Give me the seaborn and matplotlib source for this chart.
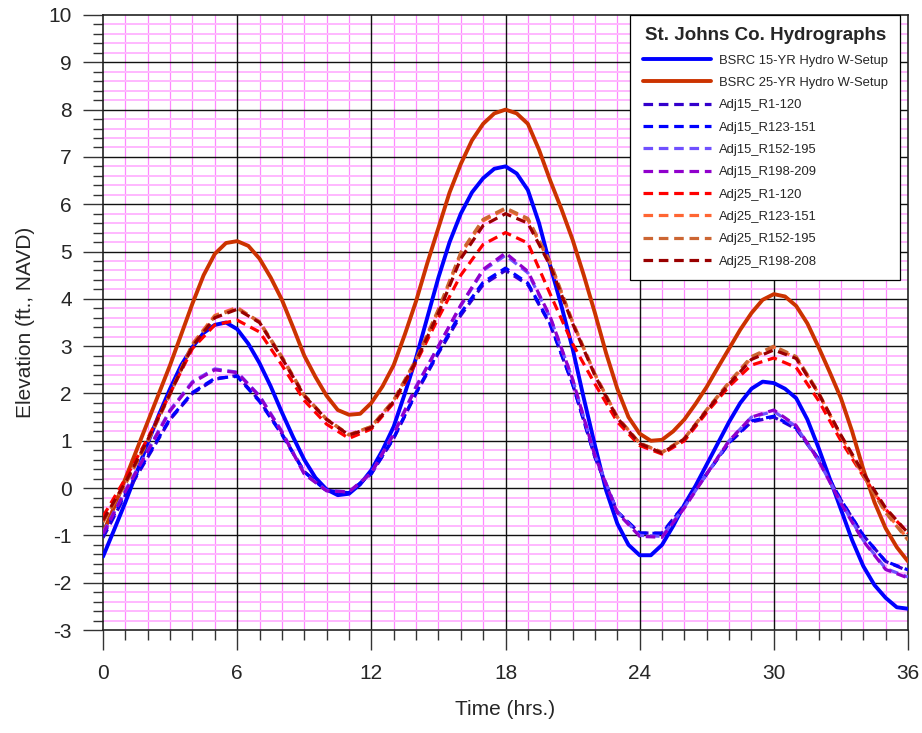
import matplotlib
matplotlib.use("Agg")
import matplotlib.pyplot as plt
from matplotlib.ticker import MultipleLocator
import seaborn as sns
import pandas as pd

# Elevations (ft, NAVD) over a 36-hour storm window.
# Base hydrographs are tabulated every half hour, adjusted runs every hour.
half_hours = [i * 0.5 for i in range(73)]
hours = list(range(37))

bsrc15 = [-1.45, -0.88, -0.3, 0.32, 0.95, 1.55, 2.1, 2.6, 2.98, 3.28, 3.45, 3.5,
          3.36, 3.05, 2.64, 2.15, 1.6, 1.08, 0.6, 0.22, -0.03, -0.15, -0.12, 0.08,
          0.38, 0.8, 1.3, 2.0, 2.75, 3.6, 4.45, 5.2, 5.8, 6.25, 6.55, 6.75,
          6.8, 6.65, 6.3, 5.6, 4.7, 3.85, 2.95, 1.9, 0.9, -0.05, -0.75, -1.2,
          -1.42, -1.42, -1.2, -0.8, -0.35, 0.05, 0.5, 0.95, 1.4, 1.8, 2.1, 2.25,
          2.22, 2.1, 1.9, 1.45, 0.85, 0.2, -0.45, -1.1, -1.65, -2.05, -2.32, -2.52,
          -2.55]
bsrc25 = [-0.95, -0.4, 0.2, 0.8, 1.4, 2.0, 2.6, 3.25, 3.9, 4.5, 4.95, 5.18,
          5.22, 5.12, 4.85, 4.45, 3.98, 3.4, 2.8, 2.35, 1.95, 1.65, 1.55, 1.57,
          1.8, 2.15, 2.6, 3.25, 3.95, 4.75, 5.5, 6.25, 6.85, 7.35, 7.7, 7.92,
          8.0, 7.92, 7.7, 7.15, 6.5, 5.9, 5.25, 4.5, 3.7, 2.85, 2.1, 1.5,
          1.15, 1.0, 1.02, 1.2, 1.45, 1.78, 2.14, 2.55, 2.95, 3.35, 3.7, 3.98,
          4.1, 4.05, 3.85, 3.48, 2.98, 2.45, 1.9, 1.2, 0.4, -0.3, -0.85, -1.25,
          -1.55]
adj15_r1_120 = [-1.05, -0.15, 0.65, 1.45, 2.0, 2.3, 2.38, 1.85, 1.15, 0.35, -0.05, -0.1,
                0.3, 1.05, 2.0, 2.85, 3.65, 4.3, 4.6, 4.3, 3.45, 2.2, 0.65, -0.5, -0.95,
                -0.95, -0.35, 0.3, 0.95, 1.4, 1.5, 1.25, 0.6, -0.25, -1.0, -1.55, -1.75]
adj15_r123_151 = [-1.0, -0.12, 0.68, 1.47, 2.02, 2.32, 2.36, 1.83, 1.13, 0.34, -0.06, -0.1,
                  0.31, 1.06, 2.02, 2.88, 3.7, 4.35, 4.65, 4.33, 3.47, 2.2, 0.66, -0.5,
                  -0.95, -0.96, -0.36, 0.3, 0.96, 1.42, 1.52, 1.27, 0.62, -0.25, -1.0,
                  -1.55, -1.73]
adj15_r152_195 = [-0.95, -0.05, 0.8, 1.65, 2.25, 2.52, 2.45, 1.95, 1.2, 0.3, -0.05, -0.08,
                  0.32, 1.15, 2.15, 3.0, 3.85, 4.6, 4.92, 4.55, 3.6, 2.3, 0.7, -0.5, -1.0,
                  -1.02, -0.4, 0.3, 1.0, 1.5, 1.62, 1.3, 0.58, -0.3, -1.1, -1.7, -1.88]
adj15_r198_209 = [-0.97, -0.07, 0.78, 1.63, 2.23, 2.5, 2.44, 1.94, 1.18, 0.3, -0.06, -0.08,
                  0.32, 1.14, 2.13, 3.0, 3.87, 4.62, 4.97, 4.58, 3.62, 2.3, 0.68, -0.52,
                  -1.02, -1.04, -0.42, 0.3, 1.0, 1.5, 1.65, 1.32, 0.58, -0.32, -1.12,
                  -1.72, -1.9]
adj25_r1_120 = [-0.6, 0.2, 1.05, 2.0, 2.95, 3.45, 3.55, 3.3, 2.6, 1.85, 1.35, 1.05, 1.25,
                1.8, 2.65, 3.6, 4.5, 5.15, 5.4, 5.18, 4.1, 3.05, 2.2, 1.4, 0.9, 0.72, 1.0,
                1.6, 2.15, 2.6, 2.75, 2.55, 1.85, 1.0, 0.25, -0.45, -0.95]
adj25_r123_151 = [-0.7, 0.1, 1.0, 2.0, 3.05, 3.65, 3.82, 3.5, 2.75, 1.95, 1.45, 1.12, 1.3,
                  1.85, 2.7, 3.75, 4.95, 5.65, 5.9, 5.67, 4.75, 3.5, 2.4, 1.5, 0.95, 0.75,
                  1.05, 1.65, 2.22, 2.75, 2.98, 2.75, 2.0, 1.1, 0.28, -0.5, -1.08]
adj25_r152_195 = [-0.72, 0.08, 0.98, 1.98, 3.03, 3.63, 3.8, 3.52, 2.78, 1.97, 1.46, 1.13,
                  1.3, 1.86, 2.72, 3.78, 4.98, 5.68, 5.92, 5.7, 4.78, 3.52, 2.41, 1.5, 0.95,
                  0.76, 1.05, 1.66, 2.24, 2.78, 3.0, 2.78, 2.02, 1.1, 0.27, -0.52, -1.1]
adj25_r198_208 = [-0.68, 0.12, 1.02, 2.0, 3.0, 3.6, 3.78, 3.5, 2.75, 1.95, 1.45, 1.12, 1.28,
                  1.83, 2.68, 3.7, 4.85, 5.55, 5.8, 5.6, 4.7, 3.48, 2.38, 1.48, 0.94, 0.74,
                  1.04, 1.64, 2.2, 2.72, 2.92, 2.74, 2.0, 1.12, 0.32, -0.42, -0.95]

series_names = ["BSRC 15-YR Hydro W-Setup", "BSRC 25-YR Hydro W-Setup",
                "Adj15_R1-120", "Adj15_R123-151", "Adj15_R152-195", "Adj15_R198-209",
                "Adj25_R1-120", "Adj25_R123-151", "Adj25_R152-195", "Adj25_R198-208"]
series_values = [bsrc15, bsrc25, adj15_r1_120, adj15_r123_151, adj15_r152_195,
                 adj15_r198_209, adj25_r1_120, adj25_r123_151, adj25_r152_195,
                 adj25_r198_208]
series_times = [half_hours, half_hours] + [hours] * 8
series_colors = ["#0000FF", "#CC3300", "#3300CC", "#0000FF", "#7050FF", "#9000CC",
                 "#FF0000", "#FF6633", "#CC6633", "#990000"]
series_solid = [True, True] + [False] * 8

sns.set_style("white")
plt.rcParams["font.family"] = ["Liberation Sans", "DejaVu Sans"]
plt.rcParams["axes.unicode_minus"] = False

fig = plt.figure(figsize=(9.22, 7.33), dpi=100)
ax = fig.add_axes([103 / 922, 1 - 630 / 733, 805 / 922, 615 / 733])

for name, t, vals, col, solid in zip(series_names, series_times, series_values,
                                     series_colors, series_solid):
    df = pd.DataFrame({"Time": t, "Elevation": vals})
    if solid:
        sns.lineplot(data=df, x="Time", y="Elevation", ax=ax, color=col, lw=2.8,
                     label=name, zorder=3)
    else:
        sns.lineplot(data=df, x="Time", y="Elevation", ax=ax, color=col, lw=2.3,
                     linestyle=(0, (3.0, 1.8)), label=name, zorder=4)

ax.set_xlim(0, 36)
ax.set_ylim(-3, 10)
ax.xaxis.set_major_locator(MultipleLocator(6))
ax.xaxis.set_minor_locator(MultipleLocator(1))
ax.yaxis.set_major_locator(MultipleLocator(1))
ax.yaxis.set_minor_locator(MultipleLocator(0.2))

# Graph-paper style grid: pink minor rules, dark major rules on top of them
ax.grid(which="minor", axis="x", color="#FF88FF", lw=0.9)
ax.grid(which="minor", axis="y", color="#FFB8FF", lw=1.4)
ax.grid(which="major", visible=False)
ax.set_axisbelow(True)
for xv in ax.get_xticks():
    if 0 < xv < 36:
        ax.axvline(xv, color="#111111", lw=1.0, zorder=1)
for yv in ax.get_yticks():
    if -3 < yv < 10:
        ax.axhline(yv, color="#111111", lw=1.0, zorder=1)

ax.tick_params(which="major", direction="out", length=14.4, width=1.0, color="#333333",
               labelsize=15, pad=8, left=True, bottom=True)
ax.tick_params(which="minor", direction="out", length=7.2, width=1.0, color="#333333",
               left=True, bottom=True)
ax.tick_params(axis="x", which="major", pad=10)

for sp in ax.spines.values():
    sp.set_color("#222222")
    sp.set_linewidth(1.2)

ax.set_xlabel("Time (hrs.)", fontsize=15, labelpad=12)
ax.set_ylabel("Elevation (ft., NAVD)", fontsize=15, labelpad=10)

leg = ax.legend(loc="upper right", bbox_to_anchor=(0.990, 1.0), borderaxespad=0,
                title="St. Johns Co. Hydrographs",
                title_fontproperties={"weight": "bold", "size": 13.5},
                fontsize=9.4, handlelength=5.2, handletextpad=0.6, labelspacing=0.78,
                fancybox=False, framealpha=1, edgecolor="black", borderpad=0.95)
leg.get_frame().set_linewidth(0.9)
leg.set_zorder(10)

fig.savefig("out.png", dpi=100)
